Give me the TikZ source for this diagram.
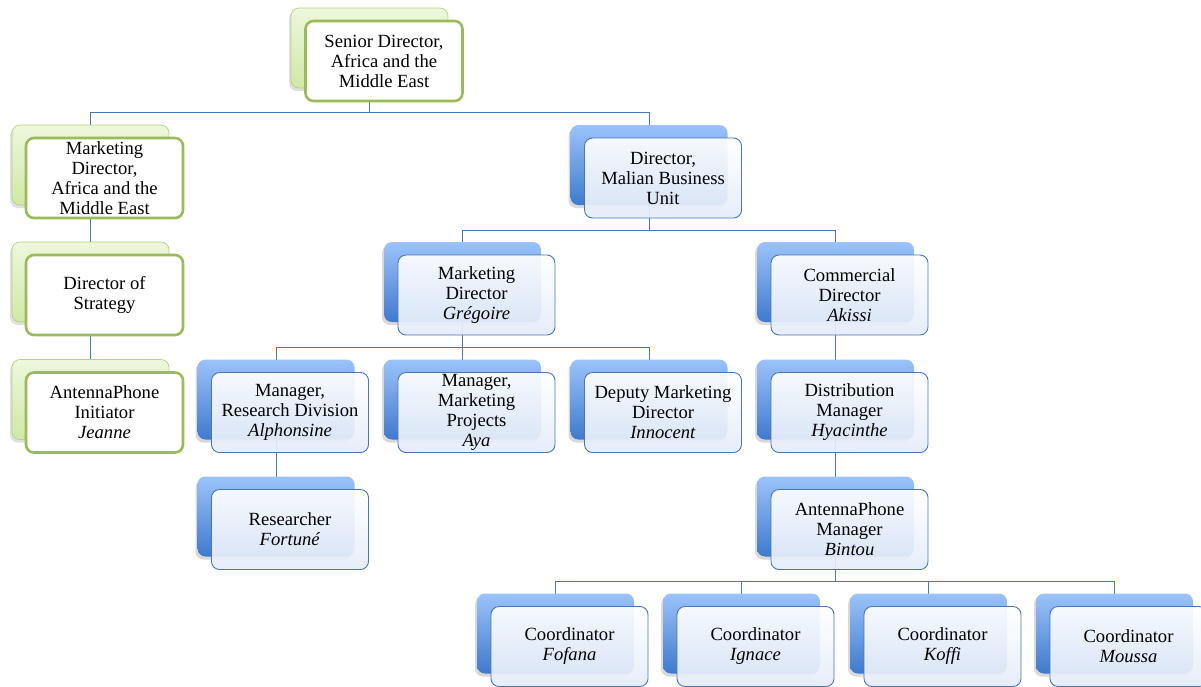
\documentclass[tikz,border=0pt]{standalone}
\usepackage{fontspec}
\setmainfont{Liberation Serif}
\usetikzlibrary{shadows}
\definecolor{blueTop}{RGB}{155,195,250}
\definecolor{blueBot}{RGB}{62,122,205}
\definecolor{blueLine}{RGB}{75,118,180}
\definecolor{blueTint}{RGB}{228,236,249}
\definecolor{greenTop}{RGB}{238,247,220}
\definecolor{greenBot}{RGB}{208,232,165}
\definecolor{greenEdge}{RGB}{155,187,89}
\definecolor{greenSoft}{RGB}{180,212,120}
\pgfdeclarelayer{background}
\pgfsetlayers{background,main}
\tikzset{
  box/.style={rectangle, rounded corners=8pt, minimum width=157pt, minimum height=80pt, inner sep=0pt},
  bback/.style={box, top color=blueTop, bottom color=blueBot, drop shadow={shadow xshift=-2pt, shadow yshift=-3pt, opacity=0.3}},
  bfront/.style={box, draw=blueLine, line width=0.9pt, top color=white, bottom color=blueTint, fill opacity=0.92, text opacity=1, align=center, font=\fontsize{18.6}{20}\selectfont},
  gback/.style={box, draw=greenSoft, line width=0.7pt, top color=greenTop, bottom color=greenBot, drop shadow={shadow xshift=-2pt, shadow yshift=-3pt, opacity=0.25}},
  gfront/.style={box, draw=greenEdge, line width=2.6pt, fill=white, align=center, font=\fontsize{18.6}{20}\selectfont},
  link/.style={draw=blueLine, line width=0.9pt}
}
\begin{document}
\begin{tikzpicture}[x=1pt, y=-1pt]
\useasboundingbox (0,0) rectangle (1201,686);

% left column
\node[gback] (sd-b) at (369.5,48) {};
\node[gfront] (sd) at (384,61) {Senior Director,\\Africa and the\\Middle East};
\node[gback] (mda-b) at (90.5,165) {};
\node[gfront] (mda) at (104.5,178) {Marketing\\Director,\\Africa and the\\Middle East};
\node[gback] (ds-b) at (90.5,282) {};
\node[gfront] (ds) at (104.5,295) {Director of\\Strategy};
\node[gback] (ai-b) at (90.5,399.5) {};
\node[gfront] (ai) at (104.5,412.5) {AntennaPhone\\Initiator\\\textit{Jeanne}};

% business unit
\node[bback] (dm-b) at (649,165) {};
\node[bfront] (dm) at (663,178) {Director,\\Malian Business\\Unit};
\node[bback] (mg-b) at (462.5,282) {};
\node[bfront] (mg) at (476.5,295) {Marketing\\Director\\\textit{Grégoire}};
\node[bback] (cd-b) at (835.5,282) {};
\node[bfront] (cd) at (849.5,295) {Commercial\\Director\\\textit{Akissi}};

\node[bback] (mr-b) at (276,399.5) {};
\node[bfront] (mr) at (290,412.5) {Manager,\\Research Division\\\textit{Alphonsine}};
\node[bback] (mp-b) at (462.5,399.5) {};
\node[bfront] (mp) at (476.5,412.5) {Manager,\\Marketing\\Projects\\\textit{Aya}};
\node[bback] (dep-b) at (649,399.5) {};
\node[bfront] (dep) at (663,412.5) {Deputy Marketing\\Director\\\textit{Innocent}};
\node[bback] (dist-b) at (835.5,399.5) {};
\node[bfront] (dist) at (849.5,412.5) {Distribution\\Manager\\\textit{Hyacinthe}};

\node[bback] (res-b) at (276,516.5) {};
\node[bfront] (res) at (290,529.5) {Researcher\\\textit{Fortuné}};
\node[bback] (am-b) at (835.5,516.5) {};
\node[bfront] (am) at (849.5,529.5) {AntennaPhone\\Manager\\\textit{Bintou}};

% coordinators
\node[bback] (c1-b) at (555.5,633.5) {};
\node[bfront] (c1) at (569.5,646.5) {Coordinator\\\textit{Fofana}};
\node[bback] (c2-b) at (741.5,633.5) {};
\node[bfront] (c2) at (755.5,646.5) {Coordinator\\\textit{Ignace}};
\node[bback] (c3-b) at (928.5,633.5) {};
\node[bfront] (c3) at (942.5,646.5) {Coordinator\\\textit{Koffi}};
\node[bback] (c4-b) at (1114.5,633.5) {};
\node[bfront] (c4) at (1128.5,646.5) {Coordinator\\\textit{Moussa}};

\begin{pgfonlayer}{background}
\coordinate (bus1) at (0,112);
\coordinate (bus2) at (0,230);
\coordinate (bus3) at (0,347);
\coordinate (bus4) at (0,581);
\draw[link] (sd-b.center) -- (sd-b.center |- bus1) -| (mda-b.center);
\draw[link] (sd-b.center |- bus1) -| (dm-b.center);
\draw[link] (mda-b.center) -- (ai-b.center);
\draw[link] (dm-b.center) -- (dm-b.center |- bus2) -| (mg-b.center);
\draw[link] (dm-b.center |- bus2) -| (cd-b.center);
\draw[link] (mg-b.center) -- (mg-b.center |- bus3) -| (mr-b.center);
\draw[link] (mg-b.center |- bus3) -- (mp-b.center);
\draw[link] (mg-b.center |- bus3) -| (dep-b.center);
\draw[link] (mr-b.center) -- (res-b.center);
\draw[link] (cd-b.center) -- (am-b.center);
\draw[link] (am-b.center) -- (am-b.center |- bus4) -| (c1-b.center);
\draw[link] (am-b.center |- bus4) -| (c2-b.center);
\draw[link] (am-b.center |- bus4) -| (c3-b.center);
\draw[link] (am-b.center |- bus4) -| (c4-b.center);
\end{pgfonlayer}
\end{tikzpicture}
\end{document}
